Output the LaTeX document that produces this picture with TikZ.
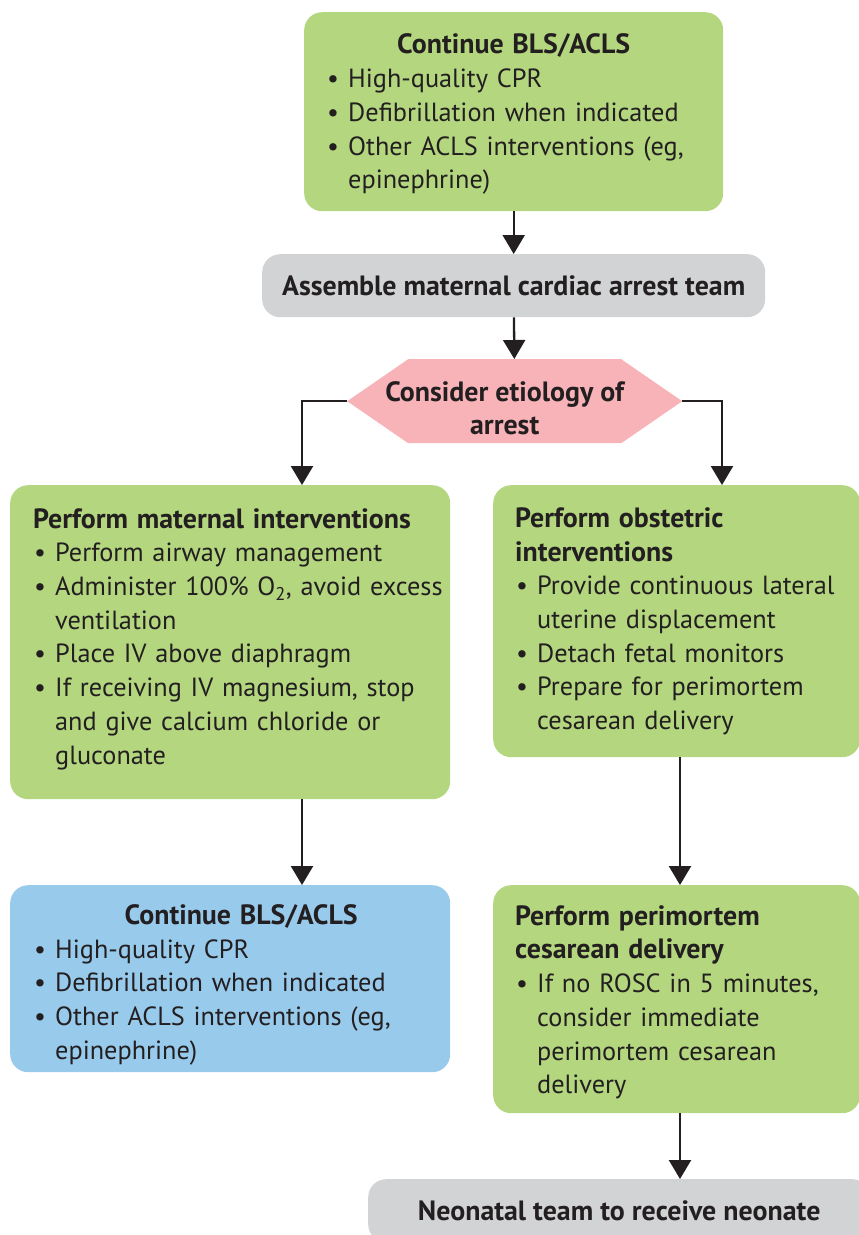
\documentclass[tikz,border=0pt]{standalone}
\usepackage{fontspec}
\setmainfont{PT Sans}
\usepackage{xcolor}
\usetikzlibrary{arrows.meta}

\definecolor{boxgreen}{RGB}{179,214,127}
\definecolor{boxblue}{RGB}{152,202,236}
\definecolor{boxgray}{RGB}{209,211,212}
\definecolor{hexpink}{RGB}{247,179,184}
\definecolor{ink}{RGB}{35,31,32}

\newcommand{\hd}{\fontsize{27.9}{33.7}\selectfont\bfseries}
\newcommand{\bitem}[1]{\mbox{\makebox[22pt][l]{\hspace*{1pt}\textbullet}#1}}
\newcommand{\bcont}[1]{\mbox{\hspace*{22pt}#1}}
\hfuzz=60pt

\begin{document}
\begin{tikzpicture}[x=1pt, y=-1pt, font=\fontsize{26.3}{33.7}\selectfont,
  stepbox/.style={rounded corners=18pt, inner sep=0pt, anchor=north west, align=left, text=ink},
  greenbox/.style={stepbox, fill=boxgreen},
  bluebox/.style={stepbox, fill=boxblue},
  graybox/.style={stepbox, fill=boxgray, align=center, font=\hd},
  flow/.style={draw=ink, line width=2.3pt, -{Triangle[width=22pt,length=19pt]}}]
\useasboundingbox (0,0) rectangle (859,1235);
\clip (0,0) rectangle (859,1235);

\node[greenbox, minimum width=419, minimum height=199, text width=375] (bls) at (304,12)
  {\rule{0pt}{25pt}\makebox[\hsize]{\hd Continue BLS/ACLS}\\
   \bitem{High-quality CPR}\\
   \bitem{Defibrillation when indicated}\\
   \bitem{Other ACLS interventions (eg,}\\
   \bcont{epinephrine)}};
\node[graybox, minimum width=503, minimum height=63] (team) at (262,254) {Assemble maternal cardiac arrest team};
\node[minimum width=335, minimum height=84, inner sep=0pt, anchor=north west, align=center, text=ink, font=\hd,
  path picture={\fill[hexpink] (path picture bounding box.west) -- ([xshift=61pt]path picture bounding box.north west)
    -- ([xshift=-61pt]path picture bounding box.north east) -- (path picture bounding box.east)
    -- ([xshift=-61pt]path picture bounding box.south east) -- ([xshift=61pt]path picture bounding box.south west) -- cycle;}]
  (etio) at (347,359) {\rule{0pt}{34pt}Consider etiology of\hspace*{20pt}\\arrest\hspace*{20pt}};

\node[greenbox, minimum width=440, minimum height=314, text width=394] (mat) at (10,485)
  {{\hd Perform maternal interventions}\\
   \bitem{Perform airway management}\\
   \bitem{Administer 100\% O\textsubscript{2}, avoid excess}\\
   \bcont{ventilation}\\
   \bitem{Place IV above diaphragm}\\
   \bitem{If receiving IV magnesium, stop}\\
   \bcont{and give calcium chloride or}\\
   \bcont{gluconate}\rule[-12pt]{0pt}{0pt}};
\node[greenbox, minimum width=367, minimum height=272, text width=323] (obst) at (493,485)
  {{\hd Perform obstetric}\\
   {\hd interventions}\\
   \bitem{Provide continuous lateral}\\
   \bcont{uterine displacement}\\
   \bitem{Detach fetal monitors}\\
   \bitem{Prepare for perimortem}\\
   \bcont{cesarean delivery}};

\node[bluebox, minimum width=440, minimum height=187, text width=394] (acls) at (10,885)
  {\rule{0pt}{32pt}\makebox[\hsize]{\hspace*{22pt}\hd Continue BLS/ACLS}\\
   \bitem{High-quality CPR}\\
   \bitem{Defibrillation when indicated}\\
   \bitem{Other ACLS interventions (eg,}\\
   \bcont{epinephrine)}};
\node[greenbox, minimum width=367, minimum height=228, text width=323] (peri) at (493,885)
  {\rule{0pt}{26pt}{\hd Perform perimortem}\\
   {\hd cesarean delivery}\\
   \bitem{If no ROSC in 5 minutes,}\\
   \bcont{consider immediate}\\
   \bcont{perimortem cesarean}\\
   \bcont{delivery}};
\node[graybox, minimum width=502, minimum height=63] (neo) at (368,1179) {Neonatal team to receive neonate};

\coordinate (lcol) at (302,0);
\coordinate (rcol) at (722,0);
\coordinate (rmid) at (680,0);
\draw[flow] (bls) -- (team);
\draw[flow] (team) -- (etio);
\draw[flow] (etio.west) -| (lcol |- mat.north);
\draw[flow] (etio.east) -| (rcol |- obst.north);
\draw[flow] (lcol |- mat.south) -- (lcol |- acls.north);
\draw[flow] (rmid |- obst.south) -- (rmid |- peri.north);
\draw[flow] (rmid |- peri.south) -- (rmid |- neo.north);
\end{tikzpicture}
\end{document}
